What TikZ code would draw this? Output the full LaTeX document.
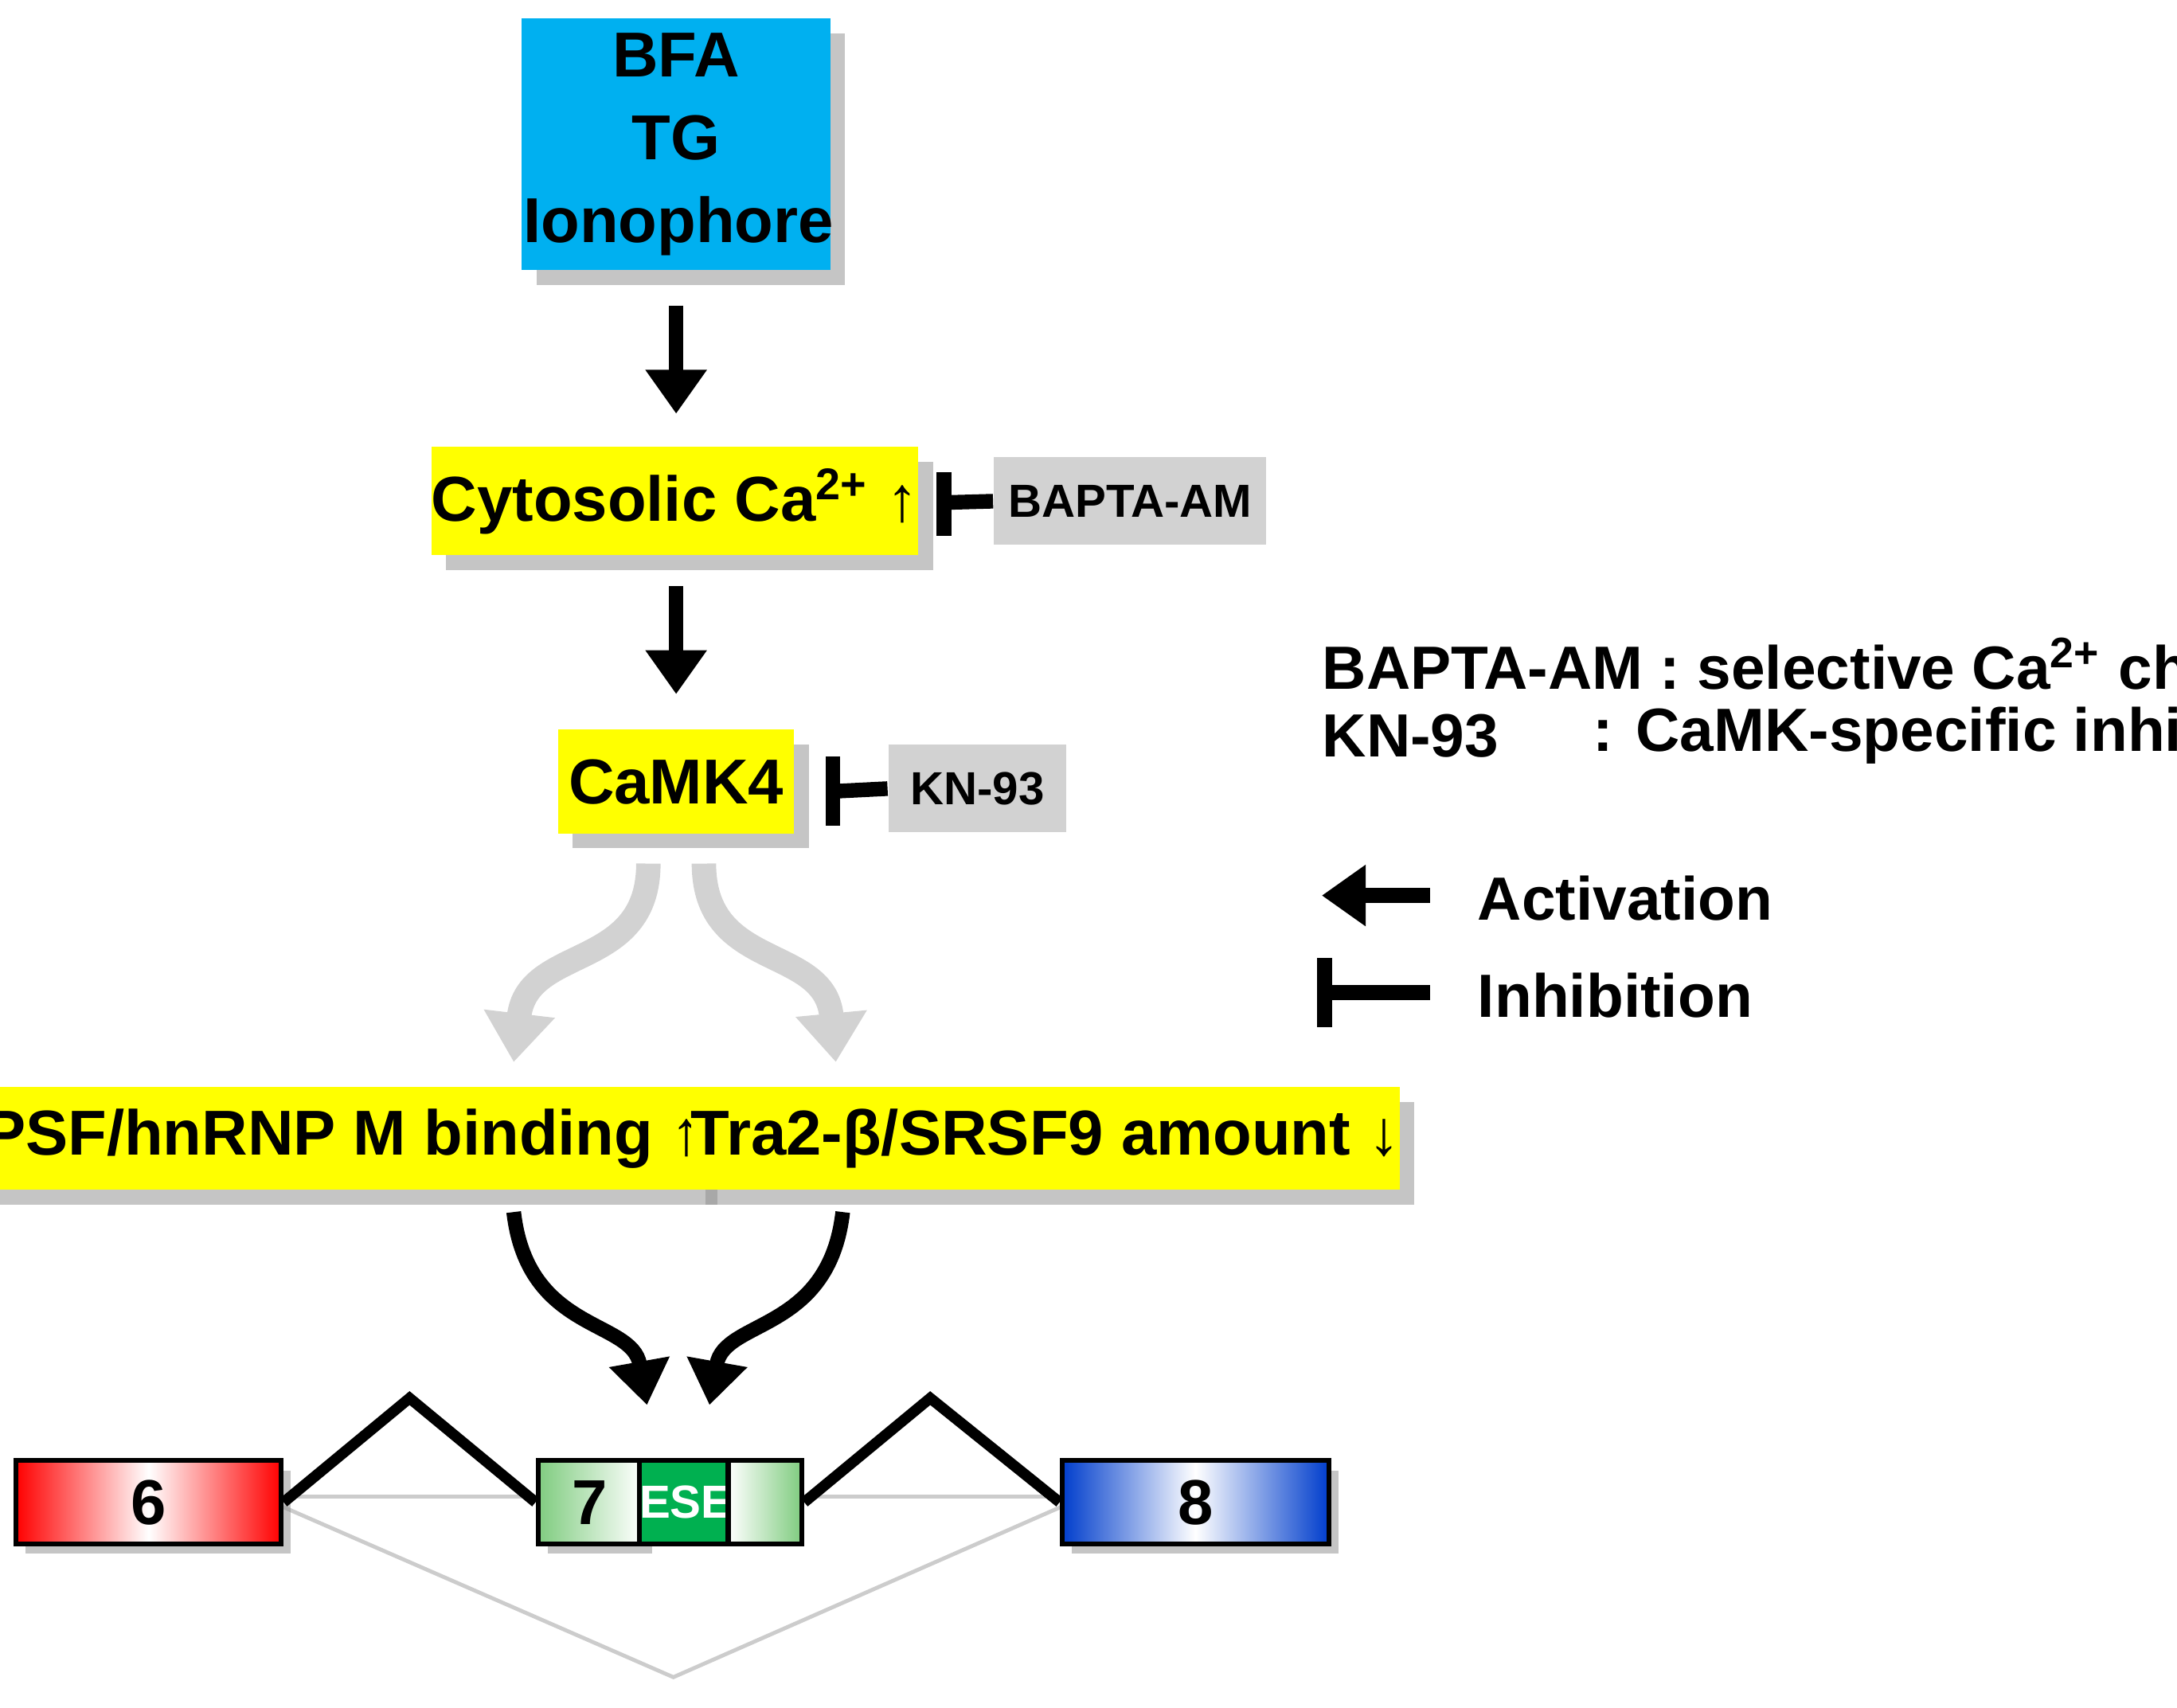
\documentclass[tikz,border=0pt]{standalone}
\usepackage{fontspec}
\setmainfont{Liberation Sans}
\usetikzlibrary{shadows,arrows.meta}
\definecolor{cy}{RGB}{0,176,240}
\definecolor{yl}{RGB}{255,255,0}
\definecolor{gr}{RGB}{210,210,210}
\definecolor{ese}{RGB}{0,176,80}
\begin{document}
\begin{tikzpicture}[x=0.01cm,y=-0.01cm,
  box/.style={inner sep=0pt,font=\bfseries\fontsize{13}{17}\selectfont,drop shadow={shadow xshift=3pt,shadow yshift=-3pt,fill=black!45}},
  inh/.style={inner sep=0pt,fill=gr,font=\bfseries\fontsize{9.5}{12}\selectfont},
  act/.style={line width=3pt,-{Triangle[length=9pt,width=12pt]}},
  curv/.style={line width=3pt,-{Triangle[length=9pt,width=12pt]}},
  lg/.style={anchor=west,font=\bfseries\fontsize{12.5}{15}\selectfont},
  splice/.style={line width=2.2pt,black},
  thin/.style={line width=0.8pt,black!20}]
\useasboundingbox (0,0) rectangle (1568,1230);
\node[box,fill=cy,minimum width=2.22cm,text width=2.2cm,align=center,minimum height=1.81cm] (bfa) at (487,104) {BFA\\TG\\Ionophore};
\node[box,fill=yl,minimum width=3.24cm,minimum height=0.78cm] (cyt) at (486,361) {Cytosolic Ca\textsuperscript{2+} ↑};
\node[inh,minimum width=1.96cm,minimum height=0.63cm] (bapta) at (814,361) {BAPTA-AM};
\node[box,fill=yl,minimum width=1.7cm,minimum height=0.75cm] (camk) at (487,563) {CaMK4};
\node[inh,minimum width=1.28cm,minimum height=0.63cm] (kn) at (704,568) {KN-93};
\node[box,fill=yl,minimum width=4.4cm,minimum height=0.74cm] (psf) at (247,820) {PSF/hnRNP M binding ↑};
\node[box,fill=yl,minimum width=4.5cm,minimum height=0.74cm] (tra) at (753,820) {Tra2-β/SRSF9 amount ↓};
\draw[act] (487,220) -- (487,298);
\draw[act] (487,422) -- (487,500);
\coordinate (b1) at (680,340); \coordinate (b1b) at (680,386);
\draw[line width=3pt] (b1) -- (b1b);
\draw[line width=3pt] (680,362) -- (bapta.west);
\draw[line width=3pt] (600,545) -- (600,595);
\draw[line width=3pt] (600,570) -- (kn.west);
\draw[line width=5pt,gr,-{Triangle[length=10pt,width=14pt]}] (467,622) .. controls (467,700) and (380,680) .. (370,765);
\draw[line width=5pt,gr,-{Triangle[length=10pt,width=14pt]}] (507,622) .. controls (507,700) and (594,680) .. (602,765);
\draw[curv] (370,873) .. controls (380,960) and (455,950) .. (466,1012);
\draw[curv] (607,873) .. controls (597,960) and (522,950) .. (511,1012);
% exons
\draw[thin] (203,1078) -- (388,1078);
\draw[thin] (578,1078) -- (765,1078);
\coordinate (skip) at (485,1208);
\draw[thin] (203,1085) -- (skip) -- (765,1085);
\node[minimum width=1.91cm,minimum height=0.6cm,inner sep=0pt,draw=black,line width=1pt,left color=red,right color=red,middle color=white,drop shadow={shadow xshift=2pt,shadow yshift=-2pt,fill=black!45},font=\bfseries\fontsize{13}{15}\selectfont] (e6) at (107,1082) {6};
\node[minimum width=0.75cm,minimum height=0.6cm,inner sep=0pt,draw=black,line width=1pt,left color=green!60!black!50,right color=white,drop shadow={shadow xshift=2pt,shadow yshift=-2pt,fill=black!45},font=\bfseries\fontsize{13}{15}\selectfont] (e7a) at (425,1082) {7};
\node[minimum width=0.62cm,minimum height=0.6cm,inner sep=0pt,draw=black,line width=1pt,fill=ese,text=white,font=\bfseries\fontsize{9.5}{12}\selectfont] (ese) at (494,1082) {ESE};
\node[minimum width=0.53cm,minimum height=0.6cm,inner sep=0pt,draw=black,line width=1pt,left color=white,right color=green!60!black!50] (e7b) at (551,1082) {};
\node[minimum width=1.92cm,minimum height=0.6cm,inner sep=0pt,draw=black,line width=1pt,left color=blue!70!cyan!80!black,right color=blue!70!cyan!80!black,middle color=white,drop shadow={shadow xshift=2pt,shadow yshift=-2pt,fill=black!45},font=\bfseries\fontsize{13}{15}\selectfont] (e8) at (861,1082) {8};
\coordinate (p1) at (295,1007); \coordinate (p2) at (670,1007);
\draw[splice] (e6.east) -- (p1) -- (e7a.west);
\draw[splice] (e7b.east) -- (p2) -- (e8.west);
% legend
\node[lg] (l1) at (940,478) {BAPTA-AM : selective Ca\textsuperscript{2+} chelator};
\node[lg] (l2) at (940,530) {KN-93};
\node[lg] (l3) at (1135,530) {: CaMK-specific inhibitor};
\coordinate (a1) at (1030,645); \coordinate (a2) at (952,645);
\draw[act] (a1) -- (a2);
\node[lg] (act) at (1052,647) {Activation};
\draw[line width=3pt] (954,690) -- (954,740);
\draw[line width=3pt] (954,715) -- (1030,715);
\node[lg] (inh) at (1052,717) {Inhibition};
\end{tikzpicture}
\end{document}
